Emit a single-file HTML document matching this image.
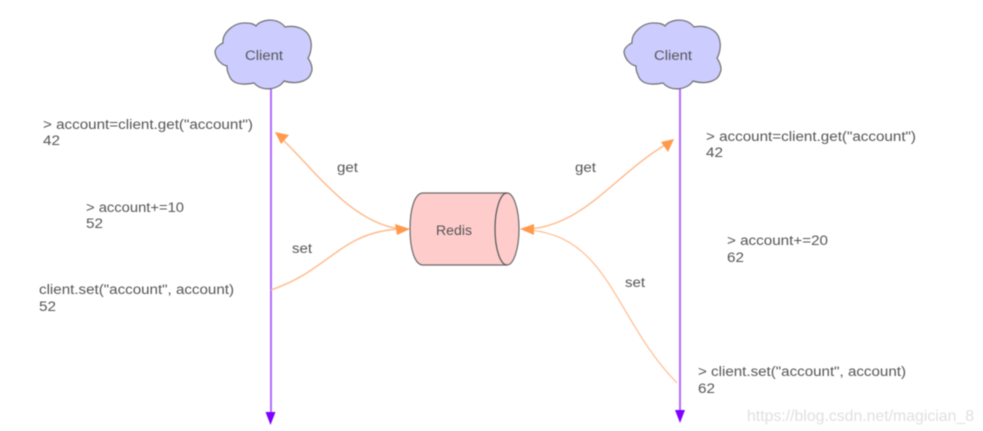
<!DOCTYPE html>
<html>
<head>
<meta charset="utf-8">
<style>
html,body{margin:0;padding:0;background:#fff;}
svg{display:block;}
text{font-family:"Liberation Sans",sans-serif;font-size:13.5px;fill:#555;transform:translateY(0.8px);}
</style>
</head>
<body>
<svg width="983" height="431" viewBox="0 0 983 431" xmlns="http://www.w3.org/2000/svg">
<defs>
<path id="cloud" d="M223 43 C222 33 234 22 246 23 C250 23 254 24 256 26 C260 20 276 16 285 27 C295 25 309 28 311 42 C312 48 310 55 308 58 C312 64 313 70 311 73 C309 81 297 85 284 81 C278 90 262 92 254 83 C244 85 232 85 229 75 C227 71 227 69 227 66 C222 65 216 60 215 52 C215 48 220 44 223 43 Z"/>
</defs>
<g style="filter:blur(0.4px)">
<!-- lifelines -->
<line x1="271" y1="89" x2="271" y2="413" stroke="#b26bff" stroke-width="2"/>
<polygon points="265.5,412 275.5,412 270.5,425" fill="#8000ff"/>
<line x1="680" y1="89" x2="680" y2="411" stroke="#b26bff" stroke-width="2"/>
<polygon points="675,410 685,410 680,423" fill="#8000ff"/>

<!-- clouds -->
<use href="#cloud" fill="#ccccff" stroke="#6e6e6e" stroke-width="1.2"/>
<use href="#cloud" transform="translate(409,0)" fill="#ccccff" stroke="#6e6e6e" stroke-width="1.2"/>
<text x="245" y="59" textLength="38" lengthAdjust="spacingAndGlyphs">Client</text>
<text x="654" y="59" textLength="38" lengthAdjust="spacingAndGlyphs">Client</text>

<!-- connectors -->
<g fill="none" stroke="#ffb98a" stroke-width="1.4">
<path d="M280 137 C315 170 350 222 400 229"/>
<path d="M271 290 C330 270 340 232 400 229"/>
<path d="M530 229 C585 224 615 175 665 145"/>
<path d="M530 230 C610 238 615 320 677 383" stroke-width="1.1"/>
</g>
<g fill="#ff9a4d">
<polygon points="275,132 289,135 281,144"/>
<polygon points="410,229 395,224 397,235"/>
<polygon points="674,139 661,142 668,152"/>
<polygon points="520,229 534,224 534,235"/>
</g>

<!-- redis -->
<path d="M423 193 L507 193 A12 36 0 0 1 507 265 L423 265 C415 265 410 250 410 229 C410 208 415 193 423 193 Z" fill="#ffcccc" stroke="#6a6a6a" stroke-width="1.2"/>
<path d="M507 193 A12 36 0 0 0 507 265" fill="none" stroke="#555" stroke-width="1.2"/>
<text x="436" y="234" textLength="36" lengthAdjust="spacingAndGlyphs">Redis</text>

<!-- labels -->
<text x="337" y="171" textLength="21" lengthAdjust="spacingAndGlyphs">get</text>
<text x="292" y="252" textLength="20" lengthAdjust="spacingAndGlyphs">set</text>
<text x="575" y="171" textLength="21" lengthAdjust="spacingAndGlyphs">get</text>
<text x="625" y="286" textLength="20" lengthAdjust="spacingAndGlyphs">set</text>

<text x="43" y="128" textLength="210" lengthAdjust="spacingAndGlyphs">&gt; account=client.get("account")</text>
<text x="43" y="144" textLength="17" lengthAdjust="spacingAndGlyphs">42</text>
<text x="86" y="211" textLength="98" lengthAdjust="spacingAndGlyphs">&gt; account+=10</text>
<text x="86" y="227" textLength="17" lengthAdjust="spacingAndGlyphs">52</text>
<text x="39" y="293" textLength="195" lengthAdjust="spacingAndGlyphs">client.set("account", account)</text>
<text x="39" y="310" textLength="17" lengthAdjust="spacingAndGlyphs">52</text>

<text x="706" y="140" textLength="210" lengthAdjust="spacingAndGlyphs">&gt; account=client.get("account")</text>
<text x="706" y="156" textLength="17" lengthAdjust="spacingAndGlyphs">42</text>
<text x="727" y="244" textLength="101" lengthAdjust="spacingAndGlyphs">&gt; account+=20</text>
<text x="727" y="261" textLength="17" lengthAdjust="spacingAndGlyphs">62</text>
<text x="698" y="375" textLength="208" lengthAdjust="spacingAndGlyphs">&gt; client.set("account", account)</text>
<text x="698" y="392" textLength="17" lengthAdjust="spacingAndGlyphs">62</text>

<text x="747" y="420" textLength="227" lengthAdjust="spacingAndGlyphs" style="font-size:16px;fill:#e0e0e0">https://blog.csdn.net/magician_8</text>
</g>
</svg>
</body>
</html>
